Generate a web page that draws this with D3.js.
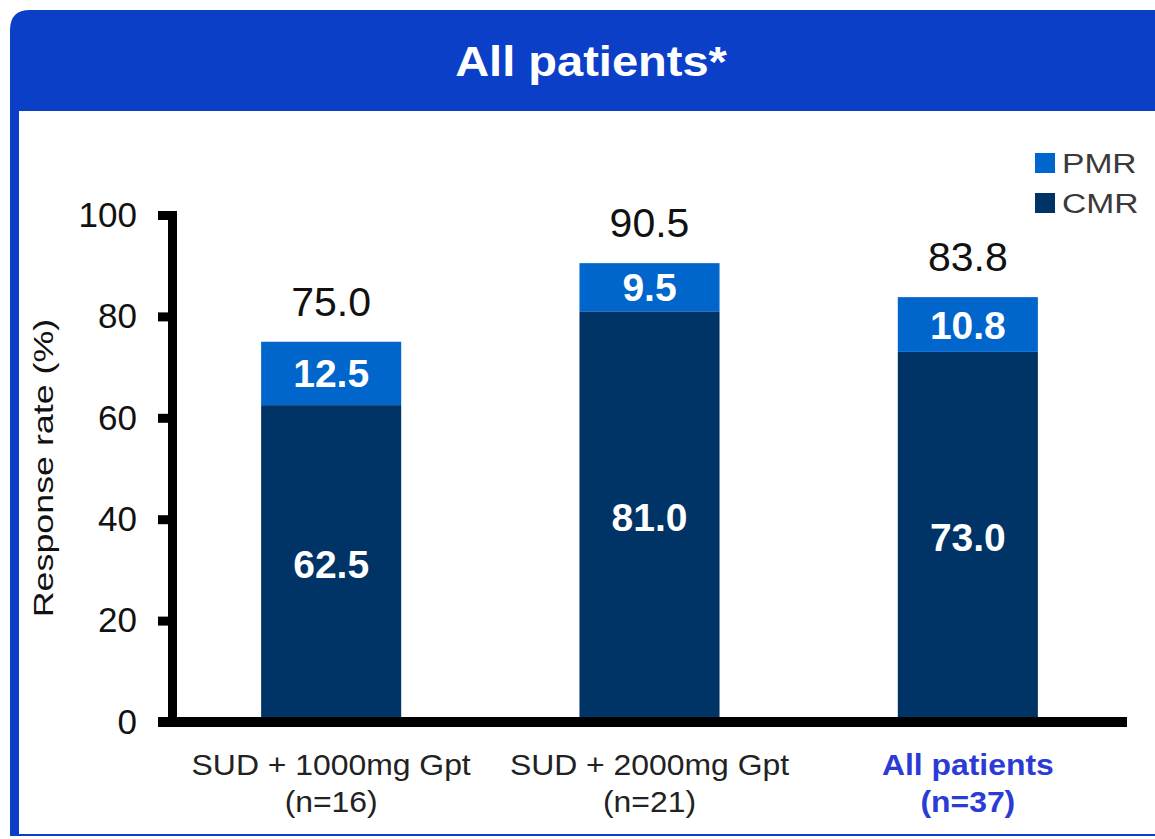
<!DOCTYPE html>
<html><head><meta charset="utf-8">
<script src="https://cdn.jsdelivr.net/npm/d3@7"></script>
<style>body{margin:0;background:#fff;}svg{display:block;font-family:Arial,"Liberation Sans",sans-serif;}</style>
</head><body>
<svg id="c" width="1155" height="839"></svg>
<script>
const categories = ["SUD + 1000mg Gpt|(n=16)", "SUD + 2000mg Gpt|(n=21)", "All patients|(n=37)"];
const cmrValues = [62.5, 81.0, 73.0];
const pmrValues = [12.5, 9.5, 10.8];
const totalValues = [75.0, 90.5, 83.8];
const yTicks = [0, 20, 40, 60, 80, 100];
const seriesNames = ["PMR", "CMR"];
const colors = {PMR: "#0066CC", CMR: "#003366"};

const svg = d3.select("#c");
// panel
const px = 10, py = 10, pw = 1170, ph = 826, r = 20;
svg.append("path")
  .attr("d", `M${px},${py+ph} L${px},${py+r} Q${px},${py} ${px+r},${py} L${px+pw},${py} L${px+pw},${py+ph} Z`)
  .attr("fill", "#0B3FC8");
svg.append("rect").attr("x", 19).attr("y", 111).attr("width", 1200).attr("height", 723).attr("fill", "#fff");

function stretched(parent, x, y, sx, rot) {
  return parent.append("text")
    .attr("transform", `translate(${x},${y})` + (rot ? ` rotate(${rot})` : "") + ` scale(${sx},1)`);
}

stretched(svg, 591, 76, 1.12).attr("text-anchor", "middle")
  .attr("fill", "#fff").attr("font-size", 42).attr("font-weight", "bold").text("All patients*");

const x = d3.scaleBand().domain(categories).range([172, 1127]).paddingInner(0.56).paddingOuter(0.28);
const y = d3.scaleLinear().domain([0, 100]).range([722, 215]);

const stackData = categories.map((c, i) => ({cat: c, CMR: cmrValues[i], PMR: pmrValues[i]}));
const stacks = d3.stack().keys(["CMR", "PMR"])(stackData);

const g = svg.append("g");
stacks.forEach(s => {
  g.selectAll(null).data(s).enter().append("rect")
    .attr("x", d => x(d.data.cat))
    .attr("width", x.bandwidth())
    .attr("y", d => y(d[1]))
    .attr("height", d => y(d[0]) - y(d[1]))
    .attr("fill", colors[s.key]);
  g.selectAll(null).data(s).enter().append("text")
    .attr("x", d => x(d.data.cat) + x.bandwidth()/2)
    .attr("y", d => (y(d[0]) + y(d[1]))/2 + 14)
    .attr("text-anchor", "middle").attr("fill", "#fff")
    .attr("font-size", 39).attr("font-weight", "bold")
    .text(d => (d[1]-d[0]).toFixed(1));
});
// totals
g.selectAll(null).data(categories).enter().append("text")
  .attr("x", d => x(d) + x.bandwidth()/2)
  .attr("y", (d, i) => y(totalValues[i]) - 26)
  .attr("text-anchor", "middle").attr("fill", "#111").attr("font-size", 41)
  .text((d, i) => totalValues[i].toFixed(1));

// axes
const yAxis = svg.append("g").attr("transform", "translate(172,0)")
  .call(d3.axisLeft(y).tickValues(yTicks).tickSize(14).tickPadding(21));
yAxis.select(".domain").attr("stroke", "#000").attr("stroke-width", 9);
yAxis.selectAll(".tick line").attr("stroke", "#000").attr("stroke-width", 9);
yAxis.selectAll(".tick text").attr("font-size", 35).attr("fill", "#111").attr("font-family", "Arial,'Liberation Sans',sans-serif");

svg.append("line").attr("x1", 158).attr("x2", 1127).attr("y1", y(0)).attr("y2", y(0))
  .attr("stroke", "#000").attr("stroke-width", 10);

// category labels
categories.forEach((c, i) => {
  const lines = c.split("|");
  const last = i === categories.length - 1;
  lines.forEach((l, j) => {
    stretched(svg, x(c) + x.bandwidth()/2, 775 + j*37, 1.1)
      .attr("text-anchor", "middle")
      .attr("fill", last ? "#2B3BD6" : "#222")
      .attr("font-weight", last ? "bold" : "normal")
      .attr("font-size", 29).text(l);
  });
});

stretched(svg, 53, 468, 1.28, -90)
  .attr("text-anchor", "middle").attr("font-size", 28).attr("fill", "#111").text("Response rate (%)");

// legend
seriesNames.forEach((n, i) => {
  svg.append("rect").attr("x", 1035).attr("y", 153 + i*40).attr("width", 20).attr("height", 20).attr("fill", colors[n]);
  stretched(svg, 1062, 173 + i*40, 1.2).attr("font-size", 28).attr("fill", "#3a3a3a").text(n);
});
</script>
</body></html>
